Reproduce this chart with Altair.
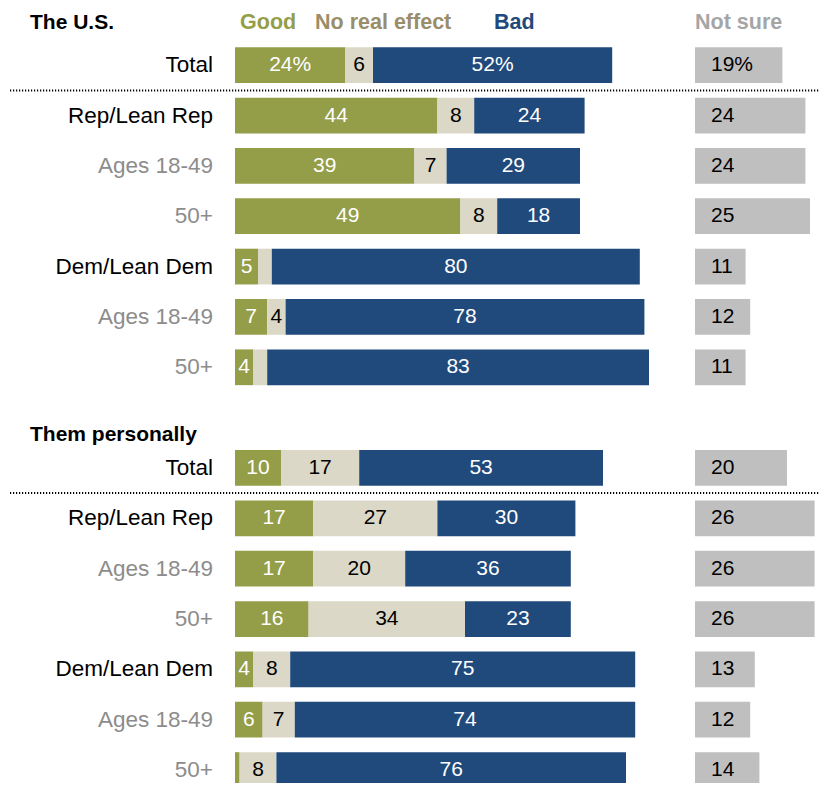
import altair as alt
import pandas as pd

row_labels = ["Total", "Rep/Lean Rep", "Ages 18-49", "50+", "Dem/Lean Dem", "Ages 18-49", "50+"]
row_is_sub = [False, False, True, True, False, True, True]

us_good = [24, 44, 39, 49, 5, 7, 4]
us_none = [6, 8, 7, 8, 3, 4, 3]
us_bad = [52, 24, 29, 18, 80, 78, 83]
us_notsure = [19, 24, 24, 25, 11, 12, 11]

me_good = [10, 17, 17, 16, 4, 6, 1]
me_none = [17, 27, 20, 34, 8, 7, 8]
me_bad = [53, 30, 36, 23, 75, 74, 76]
me_notsure = [20, 26, 26, 26, 13, 12, 14]

section_titles = ["The U.S.", "Them personally"]
categories = ["Good", "No real effect", "Bad", "Not sure"]
bar_colors = ["#949d48", "#dbd8c7", "#214a7c", "#bfbfbf"]
text_colors = ["#ffffff", "#000000", "#ffffff", "#000000"]
header_colors = ["#949d48", "#998d6a", "#214a7c", "#a5a5a5"]
header_x = [1.1, 17.4, 56.3, 100.0]

NOT_SURE_OFFSET = 100
FONT = "Liberation Sans"
W = 584
PX_PER_UNIT = 4.6
STEP = 50.35
N_SLOTS = 15

sections = [
    (us_good, us_none, us_bad, us_notsure),
    (me_good, me_none, me_bad, me_notsure),
]

recs = []
lab_recs = []
for s, (g, n, b, ns) in enumerate(sections):
    for i in range(len(row_labels)):
        slot = s * 8 + i
        lab_recs.append({"slot": slot, "label": row_labels[i],
                         "col": "#8c8c8c" if row_is_sub[i] else "#000000"})
        cum = 0
        for cat, vals in zip(categories[:3], (g, n, b)):
            v = vals[i]
            txt = str(v)
            if s == 0 and i == 0 and cat != "No real effect":
                txt += "%"
            recs.append({"slot": slot, "cat": cat, "start": cum, "end": cum + v,
                         "mid": cum + v / 2, "txt": txt if v >= 4 else ""})
            cum += v
        v = ns[i]
        txt = str(v) + ("%" if (s == 0 and i == 0) else "")
        recs.append({"slot": slot, "cat": "Not sure", "start": NOT_SURE_OFFSET,
                     "end": NOT_SURE_OFFSET + v, "mid": NOT_SURE_OFFSET, "txt": txt})

df = pd.DataFrame(recs)
labs = pd.DataFrame(lab_recs)
heads = pd.DataFrame({"cat": categories, "hx": header_x})

yenc = alt.Y("slot:O", axis=None,
             scale=alt.Scale(domain=list(range(N_SLOTS)), range=[0, N_SLOTS * STEP],
                             paddingInner=0.29, paddingOuter=0.145))
xscale = alt.Scale(domain=[0, W / PX_PER_UNIT], nice=False, zero=True)

bars = alt.Chart(df).mark_bar().encode(
    x=alt.X("start:Q", scale=xscale, axis=None),
    x2="end:Q",
    y=yenc,
    color=alt.Color("cat:N", scale=alt.Scale(domain=categories, range=bar_colors), legend=None),
)

seg_text = alt.Chart(df).transform_filter("datum.cat != 'Not sure'").mark_text(
    font=FONT, fontSize=21, align="center", baseline="middle"
).encode(
    x=alt.X("mid:Q", scale=xscale, axis=None),
    y=yenc,
    text="txt:N",
    color=alt.Color("cat:N", scale=alt.Scale(domain=categories, range=text_colors), legend=None),
)

ns_text = alt.Chart(df).transform_filter("datum.cat == 'Not sure'").mark_text(
    font=FONT, fontSize=21, align="left", baseline="middle", dx=16, color="#000000"
).encode(
    x=alt.X("mid:Q", scale=xscale, axis=None),
    y=yenc,
    text="txt:N",
)

row_text = alt.Chart(labs).mark_text(
    font=FONT, fontSize=22.5, align="right", baseline="middle"
).encode(
    x=alt.value(-22),
    y=yenc,
    text="label:N",
    color=alt.Color("col:N", scale=None),
)

head_text = alt.Chart(heads).mark_text(
    font=FONT, fontSize=21.5, fontWeight="bold", align="left", baseline="middle"
).encode(
    x=alt.X("hx:Q", scale=xscale, axis=None),
    y=alt.value(-17),
    text="cat:N",
    color=alt.Color("cat:N", scale=alt.Scale(domain=categories, range=header_colors), legend=None),
)

one = pd.DataFrame({"a": [0]})
title1 = alt.Chart(one).mark_text(
    font=FONT, fontSize=21, fontWeight="bold", align="left", baseline="middle", color="#000000",
    text=section_titles[0]
).encode(x=alt.value(-205), y=alt.value(-17))
title2 = alt.Chart(one).mark_text(
    font=FONT, fontSize=21, fontWeight="bold", align="left", baseline="middle", color="#000000",
    text=section_titles[1]
).encode(x=alt.value(-205), y=alt.value(395))

rule1 = alt.Chart(one).mark_rule(color="#000000", strokeWidth=2, strokeDash=[1.2, 1.8]).encode(
    x=alt.value(-225), x2=alt.value(W), y=alt.value(50.5))
rule2 = alt.Chart(one).mark_rule(color="#000000", strokeWidth=2, strokeDash=[1.2, 1.8]).encode(
    x=alt.value(-225), x2=alt.value(W), y=alt.value(453))

chart = alt.layer(
    bars, seg_text, ns_text, row_text, head_text, title1, title2, rule1, rule2
).resolve_scale(color="independent").properties(
    width=W, height=743,
    autosize=alt.AutoSizeParams(type="none"),
    padding={"left": 227, "top": 32, "right": 0, "bottom": 0},
).configure_view(stroke=None)

chart.save("out.html", embed_options={"renderer": "svg", "actions": False})
